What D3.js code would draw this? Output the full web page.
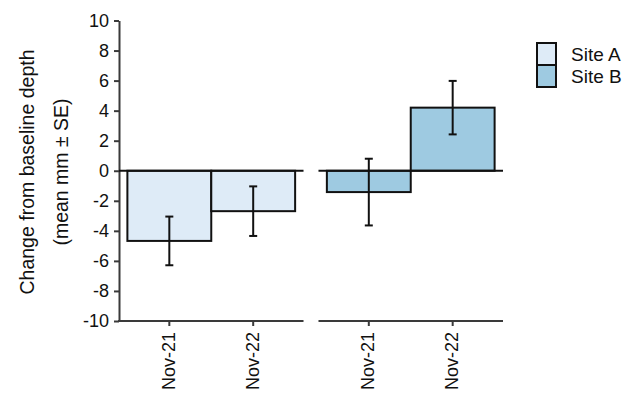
<!DOCTYPE html>
<html>
<head>
<meta charset="utf-8">
<script src="https://cdn.jsdelivr.net/npm/d3@7"></script>
<style>
  body { margin: 0; background: #fff; }
  svg { font-family: "Liberation Sans", Arial, sans-serif; }
</style>
</head>
<body>
<div id="chart"></div>
<script>
// data
const sites = ["Site A", "Site B"];
const periods = ["Nov-21", "Nov-22"];
const siteAMean = [-4.67, -2.69];
const siteASE = [1.62, 1.65];
const siteBMean = [-1.42, 4.2];
const siteBSE = [2.22, 1.78];
const siteColors = ["#deebf7", "#9ecae1"];
const yTicks = [-10, -8, -6, -4, -2, 0, 2, 4, 6, 8, 10];

const W = 633, H = 394;
const svg = d3.select("#chart").append("svg")
    .attr("width", W).attr("height", H);

const y = d3.scaleLinear().domain([-10, 10]).range([321, 20.5]);

// one panel per site
const panel = d3.scaleBand().domain(sites).range([119, 503]).paddingInner(0.075).paddingOuter(0);

const axisColor = "#3a3a3a";
const font = "Liberation Sans, Arial, sans-serif";

// y axis
const yAxis = svg.append("g")
    .attr("transform", "translate(119,0)")
    .call(d3.axisLeft(y).tickValues(yTicks).tickSize(5).tickSizeOuter(0).tickPadding(5)
      .tickFormat(d => String(d)));
yAxis.attr("font-family", font).attr("font-size", 18);
yAxis.select(".domain").attr("stroke", axisColor).attr("stroke-width", 2);
yAxis.selectAll(".tick line").attr("stroke", axisColor).attr("stroke-width", 2);
yAxis.selectAll(".tick text").attr("fill", "#111");

// y title
const title = svg.append("text")
    .attr("transform", "translate(0,172) rotate(-90)")
    .attr("text-anchor", "middle")
    .attr("font-size", 19.5).attr("fill", "#111");
title.append("tspan").attr("x", 0).attr("y", 34).text("Change from baseline depth");
title.append("tspan").attr("x", 0).attr("y", 68).text("(mean mm \u00b1 SE)");

const siteData = [
  periods.map((p, i) => ({ period: p, mean: siteAMean[i], se: siteASE[i] })),
  periods.map((p, i) => ({ period: p, mean: siteBMean[i], se: siteBSE[i] }))
];

sites.forEach((site, si) => {
  const x0 = panel(site);
  const x = d3.scaleBand().domain(periods)
      .range([x0, x0 + panel.bandwidth()])
      .paddingInner(0).paddingOuter(0.1);
  const g = svg.append("g");

  // bars
  g.selectAll("rect").data(siteData[si]).join("rect")
      .attr("x", d => x(d.period))
      .attr("width", x.bandwidth())
      .attr("y", d => y(Math.max(0, d.mean)))
      .attr("height", d => Math.abs(y(d.mean) - y(0)))
      .attr("fill", siteColors[si])
      .attr("stroke", "#111").attr("stroke-width", 2);

  // zero line
  g.append("line")
      .attr("x1", x0).attr("x2", x0 + panel.bandwidth())
      .attr("y1", y(0)).attr("y2", y(0))
      .attr("stroke", "#111").attr("stroke-width", 2);

  // error bars
  const eb = g.selectAll(".err").data(siteData[si]).join("g").attr("class", "err")
      .attr("stroke", "#111").attr("stroke-width", 2);
  eb.append("line")
      .attr("x1", d => x(d.period) + x.bandwidth() / 2)
      .attr("x2", d => x(d.period) + x.bandwidth() / 2)
      .attr("y1", d => y(d.mean + d.se)).attr("y2", d => y(d.mean - d.se));
  eb.append("line")
      .attr("x1", d => x(d.period) + x.bandwidth() / 2 - 4)
      .attr("x2", d => x(d.period) + x.bandwidth() / 2 + 4)
      .attr("y1", d => y(d.mean + d.se)).attr("y2", d => y(d.mean + d.se));
  eb.append("line")
      .attr("x1", d => x(d.period) + x.bandwidth() / 2 - 4)
      .attr("x2", d => x(d.period) + x.bandwidth() / 2 + 4)
      .attr("y1", d => y(d.mean - d.se)).attr("y2", d => y(d.mean - d.se));

  // bottom axis
  const xAxis = svg.append("g")
      .attr("transform", `translate(0,${y(-10)})`)
      .call(d3.axisBottom(x).tickSize(5).tickSizeOuter(0).tickFormat(""));
  xAxis.select(".domain").attr("stroke", axisColor).attr("stroke-width", 2)
      .attr("d", `M${si === 0 ? 118 : x0},0H${x0 + panel.bandwidth()}`);
  xAxis.selectAll(".tick line").attr("stroke", axisColor).attr("stroke-width", 2);

  // rotated tick labels
  svg.selectAll(null).data(periods).enter().append("text")
      .attr("transform", p => `translate(${x(p) + x.bandwidth() / 2 - 1},332) rotate(-90)`)
      .attr("text-anchor", "end")
      .attr("dy", "0.35em")
      .attr("font-size", 18).attr("fill", "#111")
      .text(p => p);
});

// legend
const legend = svg.append("g").attr("transform", "translate(537,43)");
sites.forEach((s, i) => {
  legend.append("rect")
      .attr("x", 0).attr("y", i * 22)
      .attr("width", 19).attr("height", 22)
      .attr("fill", siteColors[i])
      .attr("stroke", "#111").attr("stroke-width", 2);
  legend.append("text")
      .attr("x", 34).attr("y", i * 22 + 11)
      .attr("dy", "0.35em")
      .attr("font-size", 19).attr("fill", "#111")
      .text(s);
});
</script>
</body>
</html>
